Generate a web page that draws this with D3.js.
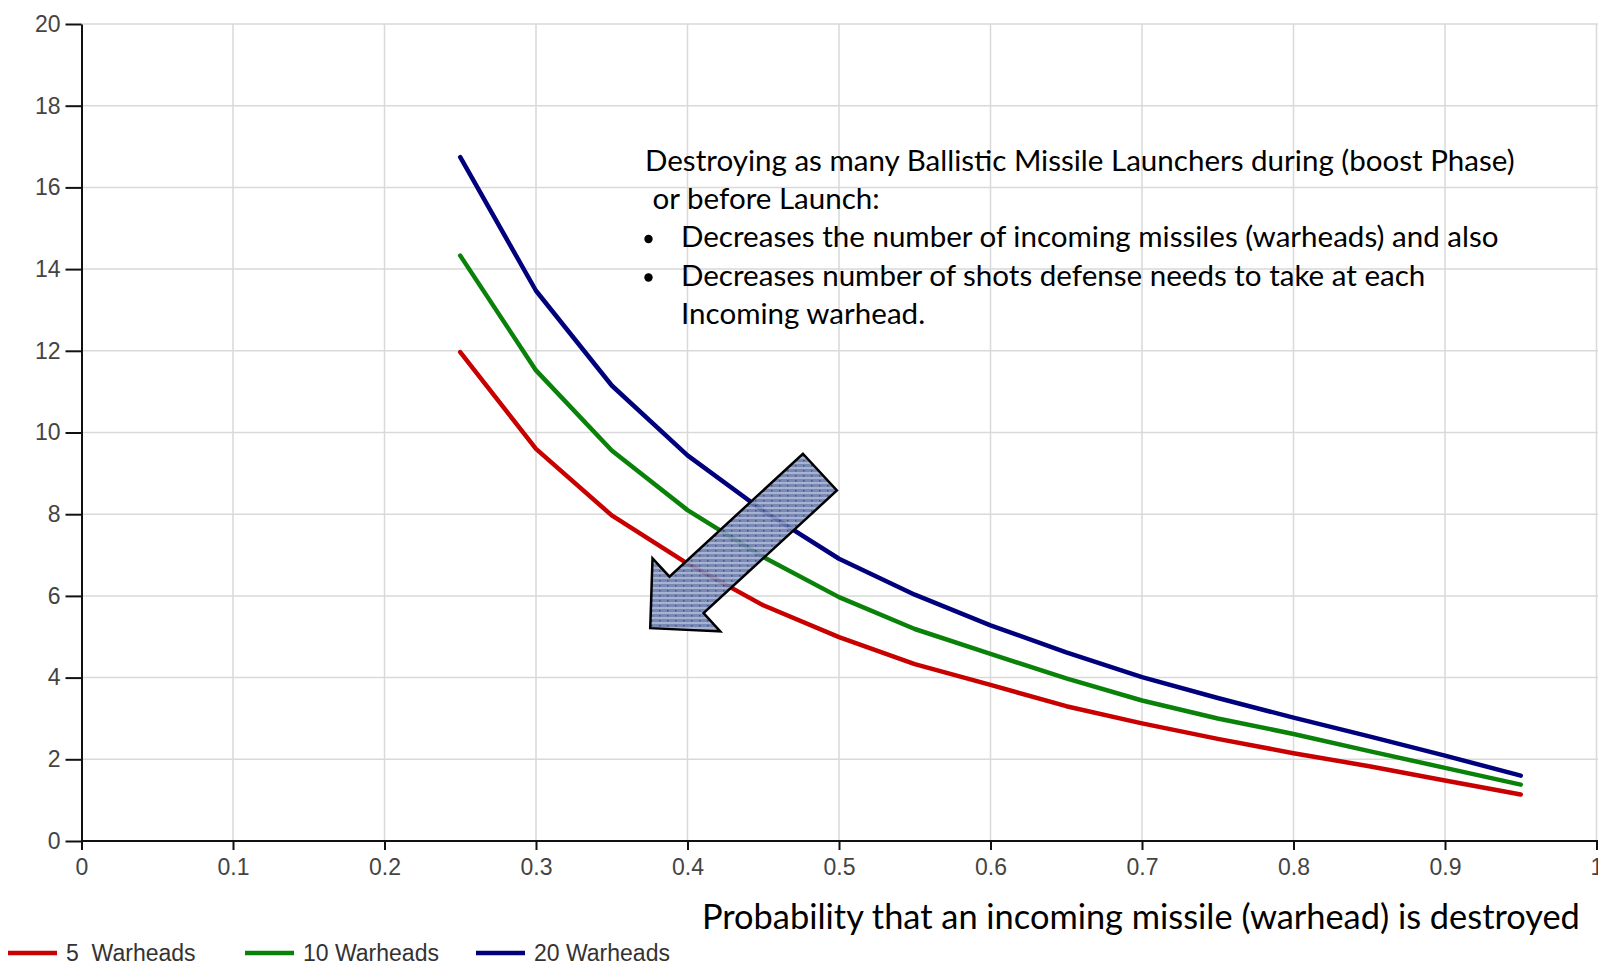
<!DOCTYPE html>
<html>
<head>
<meta charset="utf-8">
<script src="https://cdn.jsdelivr.net/npm/d3@7"></script>
<style>
  html, body { margin: 0; padding: 0; background: #fff; overflow: hidden; }
  svg { display: block; }
</style>
</head>
<body>
<svg id="chart" width="1598" height="968"></svg>
<script>
// ---- data ----
const probs = [0.25, 0.30, 0.35, 0.40, 0.45, 0.50, 0.55, 0.60, 0.65, 0.70, 0.75, 0.80, 0.85, 0.90, 0.95];
const shots5  = [11.97, 9.60, 7.97, 6.79, 5.77, 4.99, 4.33, 3.82, 3.30, 2.88, 2.50, 2.15, 1.83, 1.48, 1.14];
const shots10 = [14.33, 11.52, 9.56, 8.10, 6.95, 5.97, 5.19, 4.58, 3.98, 3.44, 3.00, 2.62, 2.20, 1.79, 1.38];
const shots20 = [16.74, 13.47, 11.15, 9.44, 8.08, 6.91, 6.03, 5.28, 4.62, 4.01, 3.50, 3.02, 2.56, 2.09, 1.60];
const seriesNames = ["5  Warheads", "10 Warheads", "20 Warheads"];
const seriesColors = ["#c80000", "#0a820a", "#00007d"];
const xTicks = [0, 0.1, 0.2, 0.3, 0.4, 0.5, 0.6, 0.7, 0.8, 0.9, 1];
const xTickLabels = ["0", "0.1", "0.2", "0.3", "0.4", "0.5", "0.6", "0.7", "0.8", "0.9", "1"];
const yTicks = [0, 2, 4, 6, 8, 10, 12, 14, 16, 18, 20];
const xTitle = "Probability that an incoming missile (warhead) is destroyed";
const noteLines = [
  "Destroying as many Ballistic Missile Launchers during (boost Phase)",
  " or before Launch:"
];
const noteBullets = [
  "Decreases the number of incoming missiles (warheads) and also",
  "Decreases number of shots defense needs to take at each"
];
const noteTail = "Incoming warhead.";
// arrow outline, in data units (probability, shots)
const arrowP = [0.4762, 0.4986, 0.4106, 0.4216, 0.3754, 0.3769, 0.3881];
const arrowV = [9.48, 8.58, 5.58, 5.13, 5.21, 6.92, 6.47];

// ---- layout ----
const svg = d3.select("#chart");
const x = d3.scaleLinear().domain([0, 1]).range([81.5, 1596.5]);
const y = d3.scaleLinear().domain([0, 20]).range([841, 24]);
const tickFont = "'Liberation Sans', Arial, sans-serif";
const textFont = "Lato, 'Open Sans', 'Noto Sans', sans-serif";

// grid
const grid = svg.append("g");
grid.selectAll("line.v").data(xTicks.slice(1)).join("line")
  .attr("x1", d => x(d)).attr("x2", d => x(d))
  .attr("y1", y(20)).attr("y2", y(0))
  .attr("stroke", "#d9d9d9").attr("stroke-width", 1.5);
grid.selectAll("line.h").data(yTicks.slice(1)).join("line")
  .attr("x1", x(0)).attr("x2", 1598)
  .attr("y1", d => y(d)).attr("y2", d => y(d))
  .attr("stroke", "#d9d9d9").attr("stroke-width", 1.5);

// axes
const xAxis = d3.axisBottom(x).tickValues(xTicks)
  .tickFormat((d, i) => xTickLabels[i]).tickSizeInner(9).tickSizeOuter(0).tickPadding(9);
const gx = svg.append("g").attr("transform", `translate(0,${y(0)})`).call(xAxis);
gx.select(".domain").attr("stroke", "#111").attr("stroke-width", 2).attr("d", `M${x(0)},0H1598`);
gx.selectAll(".tick line").attr("stroke", "#111").attr("stroke-width", 2);
gx.selectAll(".tick text").attr("font-family", tickFont).attr("font-size", 23).attr("fill", "#444");

const yAxis = d3.axisLeft(y).tickValues(yTicks).tickSizeInner(16).tickSizeOuter(0).tickPadding(5);
const gy = svg.append("g").attr("transform", `translate(${x(0)},0)`).call(yAxis);
gy.select(".domain").attr("stroke", "#111").attr("stroke-width", 2);
gy.selectAll(".tick line").attr("stroke", "#111").attr("stroke-width", 2);
gy.selectAll(".tick text").attr("font-family", tickFont).attr("font-size", 23).attr("fill", "#444");

// lines
const seriesData = [shots5, shots10, shots20];
const line = d3.line().x((d, i) => x(probs[i])).y(d => y(d)).curve(d3.curveLinear);
svg.append("g").selectAll("path").data(seriesData).join("path")
  .attr("d", d => line(d))
  .attr("fill", "none")
  .attr("stroke", (d, i) => seriesColors[i])
  .attr("stroke-width", 4.5)
  .attr("stroke-linejoin", "round")
  .attr("stroke-linecap", "round");

// arrow pattern
const defs = svg.append("defs");
const pat = defs.append("pattern").attr("id", "dots").attr("patternUnits", "userSpaceOnUse")
  .attr("width", 8).attr("height", 5);
pat.append("rect").attr("width", 8).attr("height", 5).attr("fill", "#6a7cab");
pat.append("rect").attr("y", 2).attr("width", 8).attr("height", 2).attr("fill", "#9eabcd");
pat.append("rect").attr("x", 3).attr("y", 0).attr("width", 1.5).attr("height", 1.5).attr("fill", "#2f4186");

svg.append("polygon")
  .attr("points", arrowP.map((p, i) => `${x(p)},${y(arrowV[i])}`).join(" "))
  .attr("fill", "url(#dots)")
  .attr("fill-opacity", 0.9)
  .attr("stroke", "#000")
  .attr("stroke-width", 2.5)
  .attr("stroke-linejoin", "miter");

// note text
const note = svg.append("g").attr("font-family", textFont).attr("fill", "#000");
function fitText(sel, width) {
  const w = sel.node().getComputedTextLength();
  const fs = parseFloat(sel.attr("font-size"));
  sel.attr("font-size", fs * width / w);
  return fs * width / w;
}
const t0 = note.append("text").attr("x", 645).attr("y", 171).attr("font-size", 26)
  .style("white-space", "pre").text(noteLines[0]);
const nfs = fitText(t0, 870);
note.append("text").attr("x", 645).attr("y", 209).attr("font-size", nfs)
  .style("white-space", "pre").attr("xml:space", "preserve").text(noteLines[1]);
noteBullets.forEach((b, i) => {
  const by = 247 + i * 38.5;
  note.append("circle").attr("cx", 648.5).attr("cy", by - 8).attr("r", 4.2).attr("fill", "#000");
  note.append("text").attr("x", 681).attr("y", by).attr("font-size", nfs).text(b);
});
note.append("text").attr("x", 681).attr("y", 324).attr("font-size", nfs).text(noteTail);

// x title
const xt = svg.append("text").attr("x", 702).attr("y", 929).attr("font-family", textFont)
  .attr("font-size", 29).attr("fill", "#000").text(xTitle);
fitText(xt, 878);

// legend
const legendX = [8, 245, 476];
const lg = svg.append("g");
seriesNames.forEach((n, i) => {
  lg.append("line").attr("x1", legendX[i]).attr("x2", legendX[i] + 49)
    .attr("y1", 953).attr("y2", 953).attr("stroke", seriesColors[i]).attr("stroke-width", 4.5);
  lg.append("text").attr("x", legendX[i] + 58).attr("y", 961)
    .attr("font-family", tickFont).attr("font-size", 23).attr("fill", "#333")
    .attr("xml:space", "preserve").style("white-space", "pre").text(n);
});
</script>
</body>
</html>
